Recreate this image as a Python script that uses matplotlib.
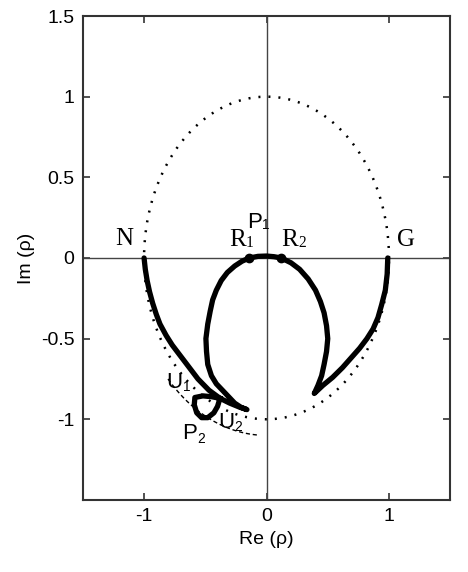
import numpy as np
import matplotlib.pyplot as plt

plt.rcParams['axes.unicode_minus'] = False
plt.rcParams['font.family'] = ['Liberation Sans', 'DejaVu Sans']

# main locus: N -> left tip -> R1, P1, R2 -> right tip -> G
path_x = [-1.00, -0.99, -0.975, -0.955, -0.93, -0.90, -0.87, -0.82, -0.77, -0.71,
          -0.64, -0.56, -0.47, -0.38, -0.30, -0.22, -0.16,
          -0.21, -0.26, -0.31, -0.36, -0.41, -0.45, -0.48, -0.49, -0.495,
          -0.48, -0.46, -0.44, -0.41, -0.37, -0.32, -0.26, -0.20, -0.14,
          -0.07, 0.0, 0.06, 0.12,
          0.20, 0.27, 0.34, 0.40, 0.44, 0.47, 0.49, 0.50, 0.49, 0.47, 0.45, 0.42, 0.39,
          0.46, 0.54, 0.62, 0.69, 0.76, 0.82, 0.87, 0.91, 0.94, 0.97, 0.985, 0.99]
path_y = [0.0, -0.07, -0.14, -0.21, -0.28, -0.35, -0.41, -0.48, -0.54, -0.60,
          -0.67, -0.75, -0.82, -0.87, -0.90, -0.925, -0.94,
          -0.925, -0.90, -0.86, -0.82, -0.78, -0.73, -0.66, -0.58, -0.50,
          -0.41, -0.33, -0.26, -0.20, -0.14, -0.09, -0.05, -0.02, 0.0,
          0.01, 0.012, 0.008, 0.0,
          -0.03, -0.07, -0.13, -0.20, -0.27, -0.34, -0.42, -0.50, -0.58, -0.66, -0.73, -0.79, -0.84,
          -0.79, -0.74, -0.68, -0.62, -0.56, -0.50, -0.44, -0.37, -0.29, -0.20, -0.10, 0.0]

# small loop near P2, hanging off the outer left branch
loop_x = [-0.38, -0.45, -0.52, -0.585, -0.59, -0.57, -0.53, -0.48, -0.43, -0.40, -0.38]
loop_y = [-0.87, -0.86, -0.855, -0.865, -0.91, -0.96, -0.99, -0.99, -0.96, -0.92, -0.87]

# marked points on the real axis
dot_x = [-0.14, 0.12]
dot_y = [0.0, 0.0]

# dashed arc (radius, start/end angle in degrees)
arc_r = 1.1
arc_t0, arc_t1 = -137, -94

xticks = [-1, 0, 1]
yticks = [-1, -0.5, 0, 0.5, 1, 1.5]
yticklabels = ['-1', '-0.5', '0', '0.5', '1', '1.5']

fig = plt.figure(figsize=(4.68, 5.72), dpi=100)
ax = fig.add_axes([0.177, 0.126, 0.785, 0.846])

ax.axhline(0, color='#444444', lw=1)
ax.axvline(0, color='#444444', lw=1)

t = np.linspace(0, 2 * np.pi, 400)
ax.plot(np.cos(t), np.sin(t), color='k', lw=1.8, linestyle=(0, (0.8, 3.2)))

ta = np.radians(np.linspace(arc_t0, arc_t1, 100))
ax.plot(arc_r * np.cos(ta), arc_r * np.sin(ta), color='k', lw=1, linestyle=(0, (3, 2)))

ax.plot(path_x, path_y, color='k', lw=3.8, solid_joinstyle='round', solid_capstyle='round')
ax.plot(loop_x, loop_y, color='k', lw=3.8, solid_joinstyle='round')
ax.plot(dot_x, dot_y, 'o', color='k', ms=6)


def lab(x, y, main, sub, family, size, dy=0.5):
    t = ax.text(x, y, main, family=family, fontsize=size, ha='center', va='center')
    if sub:
        ax.annotate(sub, xy=(1, 0), xycoords=t, xytext=(0.3, dy), textcoords='offset points',
                    family=family, fontsize=size * 0.62, ha='left', va='bottom')


serif = ['Liberation Serif', 'DejaVu Serif']
sans = ['Liberation Sans', 'DejaVu Sans']
lab(-1.16, 0.12, 'N', '', serif, 18)
lab(-0.24, 0.11, 'R', '1', serif, 18)
lab(0.19, 0.11, 'R', '2', serif, 18)
lab(1.14, 0.11, 'G', '', serif, 18)
lab(-0.10, 0.22, 'P', '1', sans, 16)
lab(-0.75, -0.77, 'U', '1', sans, 16, dy=-1)
lab(-0.33, -1.02, 'U', '2', sans, 16, dy=-1)
lab(-0.63, -1.09, 'P', '2', sans, 16, dy=-1)

ax.set_xlim(-1.5, 1.5)
ax.set_ylim(-1.5, 1.5)
ax.set_xticks(xticks)
ax.set_xticklabels([str(v) for v in xticks])
ax.set_yticks(yticks)
ax.set_yticklabels(yticklabels)
ax.tick_params(direction='in', top=True, right=True, length=5, width=1.2,
               labelsize=14, pad=6, color='#333333')
for s in ax.spines.values():
    s.set_linewidth(1.5)
    s.set_color('#333333')
ax.set_xlabel('Re (ρ)', fontsize=14, labelpad=4)
ax.set_ylabel('Im (ρ)', fontsize=14, labelpad=4)

fig.savefig('out.png', dpi=100)
